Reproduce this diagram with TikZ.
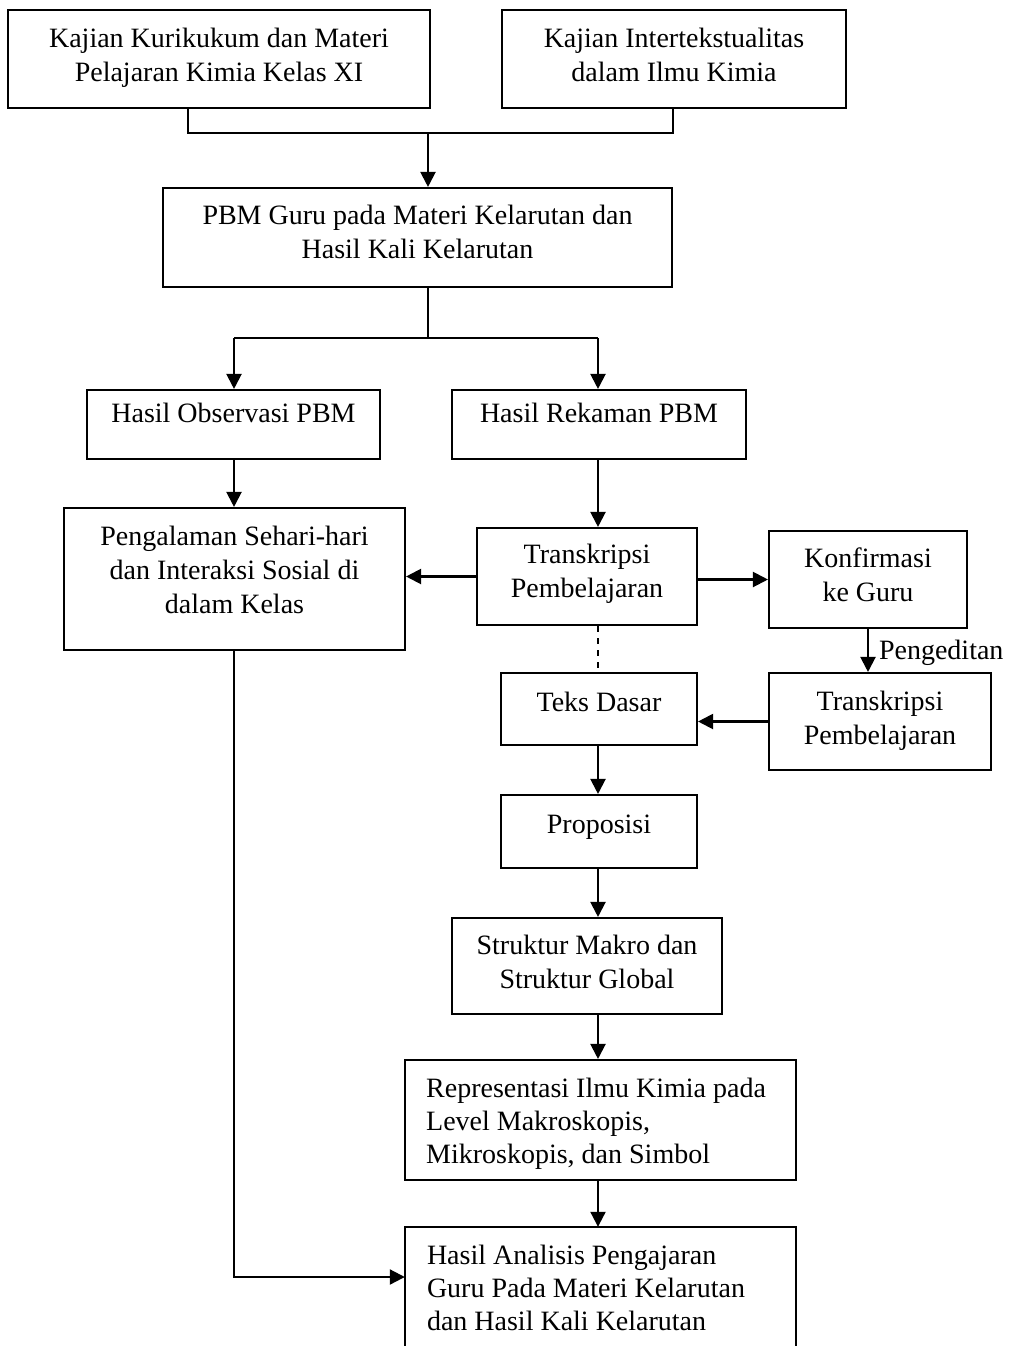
\documentclass[tikz,border=0pt]{standalone}
\usepackage{fontspec}
\setmainfont{Liberation Serif}
\usetikzlibrary{arrows.meta}
\begin{document}
\begin{tikzpicture}[x=1pt,y=-1pt,
  box/.style={draw,line width=2.1pt,inner sep=0pt},
  txt/.style={inner sep=0pt,align=center,font=\fontsize{28}{34}\selectfont},
  ltxt/.style={inner sep=0pt,align=left,font=\fontsize{28}{33}\selectfont},
  conn/.style={line width=2.1pt},
  arr/.style={line width=2.1pt,-{Triangle[length=15pt,width=15pt]}},
  lbl/.style={font=\fontsize{28}{34}\selectfont,inner sep=0pt}]
\useasboundingbox (0,0) rectangle (1025,1346);
\fill[white] (0,0) rectangle (1025,1346);

% boxes
\node[box,minimum width=422,minimum height=98] (A) at (219,59) {};
\node[box,minimum width=344,minimum height=98] (B) at (674,59) {};
\node[box,minimum width=509,minimum height=99] (PBM) at (417.5,237.5) {};
\node[box,minimum width=293,minimum height=69] (Obs) at (233.5,424.5) {};
\node[box,minimum width=294,minimum height=69] (Rek) at (599,424.5) {};
\node[box,minimum width=341,minimum height=142] (Peng) at (234.5,579) {};
\node[box,minimum width=220,minimum height=97] (T1) at (587,576.5) {};
\node[box,minimum width=198,minimum height=97] (K) at (868,579.5) {};
\node[box,minimum width=222,minimum height=97] (T2) at (880,721.5) {};
\node[box,minimum width=196,minimum height=72] (TD) at (599,709) {};
\node[box,minimum width=196,minimum height=73] (Prop) at (599,831.5) {};
\node[box,minimum width=270,minimum height=96] (Str) at (587,966) {};
\node[box,minimum width=391,minimum height=120] (Rep) at (600.5,1120) {};
\node[minimum width=391,minimum height=119,inner sep=0pt] (HA) at (600.5,1286.5) {};
\draw[conn] (HA.south west) -- (HA.north west) -- (HA.north east) -- (HA.south east);

% texts
\node[txt] (At) at ([yshift=1pt]A.center) {Kajian Kurikukum dan Materi\\Pelajaran Kimia Kelas XI};
\node[txt] (Bt) at ([yshift=4pt]B.center) {Kajian Intertekstualitas\\dalam Ilmu Kimia};
\node[txt] (PBMt) at ([yshift=6pt]PBM.center) {PBM Guru pada Materi Kelarutan dan\\Hasil Kali Kelarutan};
\node[txt] (Obst) at ([yshift=12pt]Obs.center) {Hasil Observasi PBM};
\node[txt] (Rekt) at ([yshift=12pt]Rek.center) {Hasil Rekaman PBM};
\node[txt] (Pengt) at ([yshift=9pt]Peng.center) {Pengalaman Sehari-hari\\dan Interaksi Sosial di\\dalam Kelas};
\node[txt] (T1t) at ([yshift=3pt]T1.center) {Transkripsi\\Pembelajaran};
\node[txt] (Kt) at ([yshift=5pt]K.center) {Konfirmasi\\ke Guru};
\node[txt] (T2t) at ([yshift=1pt]T2.center) {Transkripsi\\Pembelajaran};
\node[txt] (TDt) at ([yshift=7pt]TD.center) {Teks Dasar};
\node[txt] (Propt) at ([yshift=4pt]Prop.center) {Proposisi};
\node[txt] (Strt) at ([yshift=4pt]Str.center) {Struktur Makro dan\\Struktur Global};
\node[ltxt,anchor=west] (Rept) at ([xshift=22pt,yshift=-4pt]Rep.west) {Representasi Ilmu Kimia pada\\Level Makroskopis,\\Mikroskopis, dan Simbol};
\node[ltxt,anchor=west] (HAt) at ([xshift=22pt,yshift=-1pt]HA.west) {Hasil Analisis Pengajaran\\Guru Pada Materi Kelarutan\\dan Hasil Kali Kelarutan};

\coordinate (j1) at (188,133);
\coordinate (j2) at (673,133);
\coordinate (jm) at (428,133);
\coordinate (s1) at (234,338);
\coordinate (s2) at (598,338);
\coordinate (sm) at (428,338);
\coordinate (hb) at (234,1277);

\draw[conn] (A.south -| j1) -- (j1) -- (j2) -- (B.south -| j2);
\draw[arr] (jm) -- (PBM.north -| jm);
\draw[conn] (PBM.south -| sm) -- (sm);
\draw[conn] (s1) -- (s2);
\draw[arr] (s1) -- (Obs.north -| s1);
\draw[arr] (s2) -- (Rek.north -| s2);
\draw[arr] (Obs.south -| s1) -- (Peng.north -| s1);
\draw[arr] (Rek.south -| s2) -- (T1.north -| s2);
\draw[arr] (T1.west) -- (T1.west -| Peng.east);
\draw[arr] (K.west -| T1.east) -- (K.west);
\draw[arr] (K.south) -- (K.south |- T2.north) node[lbl,midway,anchor=west,xshift=10pt,yshift=-2pt] (lp) {Pengeditan};
\draw[arr] (T2.west) -- (T2.west -| TD.east);
\draw[line width=2.1pt,dash pattern=on 6pt off 6pt] (T1.south -| s2) -- (TD.north -| s2);
\draw[arr] (TD.south -| s2) -- (Prop.north -| s2);
\draw[arr] (Prop.south -| s2) -- (Str.north -| s2);
\draw[arr] (Str.south -| s2) -- (Rep.north -| s2);
\draw[arr] (Rep.south -| s2) -- (HA.north -| s2);
\draw[arr] (Peng.south -| hb) -- (hb) -- (hb -| HA.west);
\end{tikzpicture}
\end{document}
